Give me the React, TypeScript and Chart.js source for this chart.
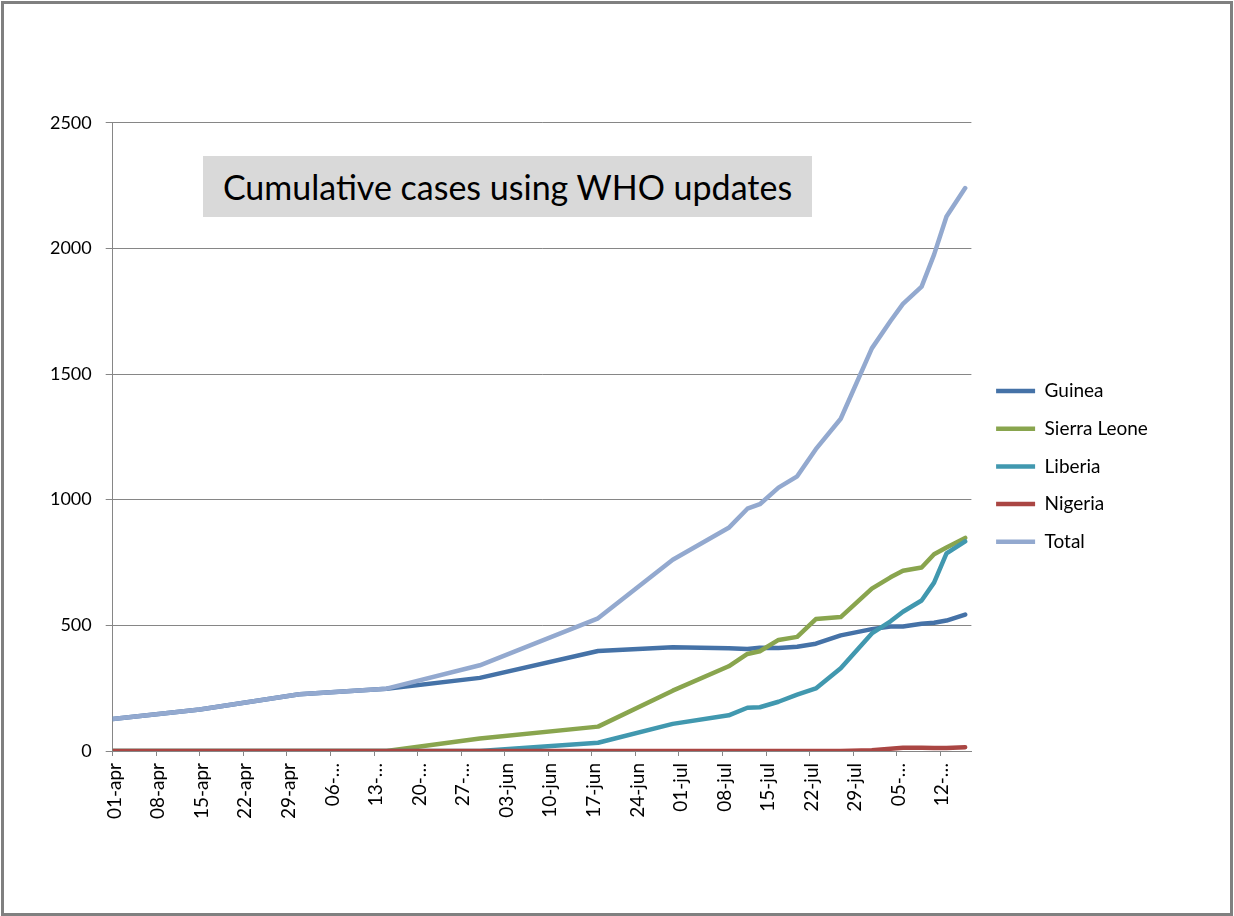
import React, { useEffect, useRef } from 'react';
import { Chart, registerables } from 'chart.js';

Chart.register(...registerables);

// dates of the WHO updates that went into the sheet
const updateDates = [
  '2014-04-01', '2014-04-15', '2014-05-01', '2014-05-15', '2014-05-30',
  '2014-06-18', '2014-06-30', '2014-07-09', '2014-07-12', '2014-07-14',
  '2014-07-17', '2014-07-20', '2014-07-23', '2014-07-27', '2014-08-01',
  '2014-08-04', '2014-08-06', '2014-08-09', '2014-08-11', '2014-08-13',
  '2014-08-16',
];

const guinea = [127, 165, 226, 248, 291, 398, 413, 409, 406, 411, 410, 415, 427, 460, 485, 495, 495, 506, 510, 519, 543];
const sierraLeone = [0, 0, 0, 0, 50, 97, 240, 337, 386, 397, 442, 454, 525, 533, 646, 691, 717, 730, 783, 810, 848];
const liberia = [0, 0, 0, 0, 0, 33, 108, 142, 172, 174, 196, 224, 249, 329, 468, 516, 554, 599, 670, 786, 834];
const nigeria = [0, 0, 0, 0, 0, 0, 0, 0, 0, 0, 0, 0, 0, 0, 3, 9, 13, 13, 12, 12, 15];
const total = [127, 165, 226, 248, 341, 528, 761, 888, 964, 982, 1048, 1093, 1201, 1322, 1602, 1711, 1779, 1848, 1975, 2127, 2240];

// weekly axis labels, as Excel cut them off
const xTickLabels = [
  '01-apr', '08-apr', '15-apr', '22-apr', '29-apr', '06-…', '13-…', '20-…', '27-…',
  '03-jun', '10-jun', '17-jun', '24-jun', '01-jul', '08-jul', '15-jul', '22-jul', '29-jul',
  '05-…', '12-…',
];

const yTickValues = [0, 500, 1000, 1500, 2000, 2500];

const startDay = Date.parse('2014-04-01');
const dayOf = (d: string) => (Date.parse(d) - startDay) / 86400000;
const points = (values: number[]) => updateDates.map((d, i) => ({ x: dayOf(d), y: values[i] }));

const FONT = 'Lato, "Open Sans", sans-serif';
const GRID = '#868686';

// Excel leaves a little gap between the plot and the legend
const nudgeLegend = {
  id: 'nudgeLegend',
  afterLayout(chart: any) {
    if (chart.legend) {
      chart.legend.left += 6;
      chart.legend.right += 6;
    }
  },
};

// vertical date labels under the x axis (reading bottom to top)
const verticalDateLabels = {
  id: 'verticalDateLabels',
  afterDraw(chart: any) {
    const scale = chart.scales.x;
    const ctx = chart.ctx;
    ctx.save();
    ctx.font = `19px ${FONT}`;
    ctx.fillStyle = '#000';
    ctx.textAlign = 'right';
    ctx.textBaseline = 'middle';
    scale.ticks.forEach((tick: any) => {
      const label = xTickLabels[Math.round(tick.value / 7)];
      if (!label) return;
      ctx.save();
      ctx.translate(scale.getPixelForValue(tick.value) + 2, scale.top + 12);
      ctx.rotate(-Math.PI / 2);
      ctx.fillText(label, 0, 0);
      ctx.restore();
    });
    ctx.restore();
  },
};

function App() {
  const canvasRef = useRef<HTMLCanvasElement>(null);

  useEffect(() => {
    if (!canvasRef.current) return;

    const line = (label: string, values: number[], color: string) => ({
      label,
      data: points(values),
      borderColor: color,
      backgroundColor: color,
      borderWidth: 4.5,
      borderCapStyle: 'round',
      borderJoinStyle: 'round',
      pointRadius: 0,
      tension: 0,
    });

    const chart = new Chart(canvasRef.current, {
      type: 'line',
      // reversed so Total is painted on top, legend flips it back
      data: {
        datasets: [
          line('Total', total, '#93A9CF'),
          line('Nigeria', nigeria, '#AA4643'),
          line('Liberia', liberia, '#4198AF'),
          line('Sierra Leone', sierraLeone, '#89A54E'),
          line('Guinea', guinea, '#4572A7'),
        ] as any,
      },
      options: {
        animation: false,
        responsive: false,
        layout: { padding: { left: 0, top: 122.7, right: 82.1, bottom: 105.9 } },
        plugins: {
          title: { display: false },
          tooltip: { enabled: false },
          legend: {
            position: 'right',
            reverse: true,
            labels: {
              usePointStyle: true,
              pointStyle: 'line',
              pointStyleWidth: 39,
              padding: 18.7,
              color: '#000',
              font: { family: FONT, size: 19 },
            },
          },
        },
        scales: {
          x: {
            type: 'linear',
            min: 0,
            max: 138,
            afterFit: (scale: any) => {
              scale.height = 59.1;
            },
            border: { color: GRID, width: 1 },
            grid: { drawOnChartArea: false, color: GRID, tickLength: 5 },
            ticks: {
              stepSize: 7,
              autoSkip: false,
              includeBounds: false,
              display: false,
            },
          },
          y: {
            min: yTickValues[0],
            max: yTickValues[yTickValues.length - 1],
            afterFit: (scale: any) => {
              scale.width = 112.7;
            },
            border: { color: GRID, width: 1 },
            grid: { color: GRID, tickLength: 7 },
            ticks: {
              stepSize: 500,
              padding: 14,
              color: '#000',
              font: { family: FONT, size: 18 },
              callback: (value: any) => String(value),
            },
          },
        },
      },
      plugins: [nudgeLegend, verticalDateLabels],
    });

    return () => {
      chart.destroy();
    };
  }, []);

  return (
    <div style={{ position: 'absolute', left: 0, top: 0, width: 1234, height: 916, background: '#fff' }}>
      <canvas ref={canvasRef} width={1234} height={916} style={{ position: 'absolute', left: 0, top: 0 }} />
      {/* chart title sits inside the plot on a grey box */}
      <div
        style={{
          position: 'absolute',
          left: 203,
          top: 156,
          width: 609,
          height: 61,
          background: '#d9d9d9',
          display: 'flex',
          alignItems: 'center',
          justifyContent: 'center',
          fontFamily: FONT,
          fontSize: 34,
          color: '#000',
        }}
      >
        Cumulative cases using WHO updates
      </div>
      {/* outer chart frame */}
      <div
        style={{
          position: 'absolute',
          left: 1,
          top: 1,
          width: 1232,
          height: 915,
          boxSizing: 'border-box',
          border: '3px solid #808080',
          pointerEvents: 'none',
        }}
      />
    </div>
  );
}

export default App;
